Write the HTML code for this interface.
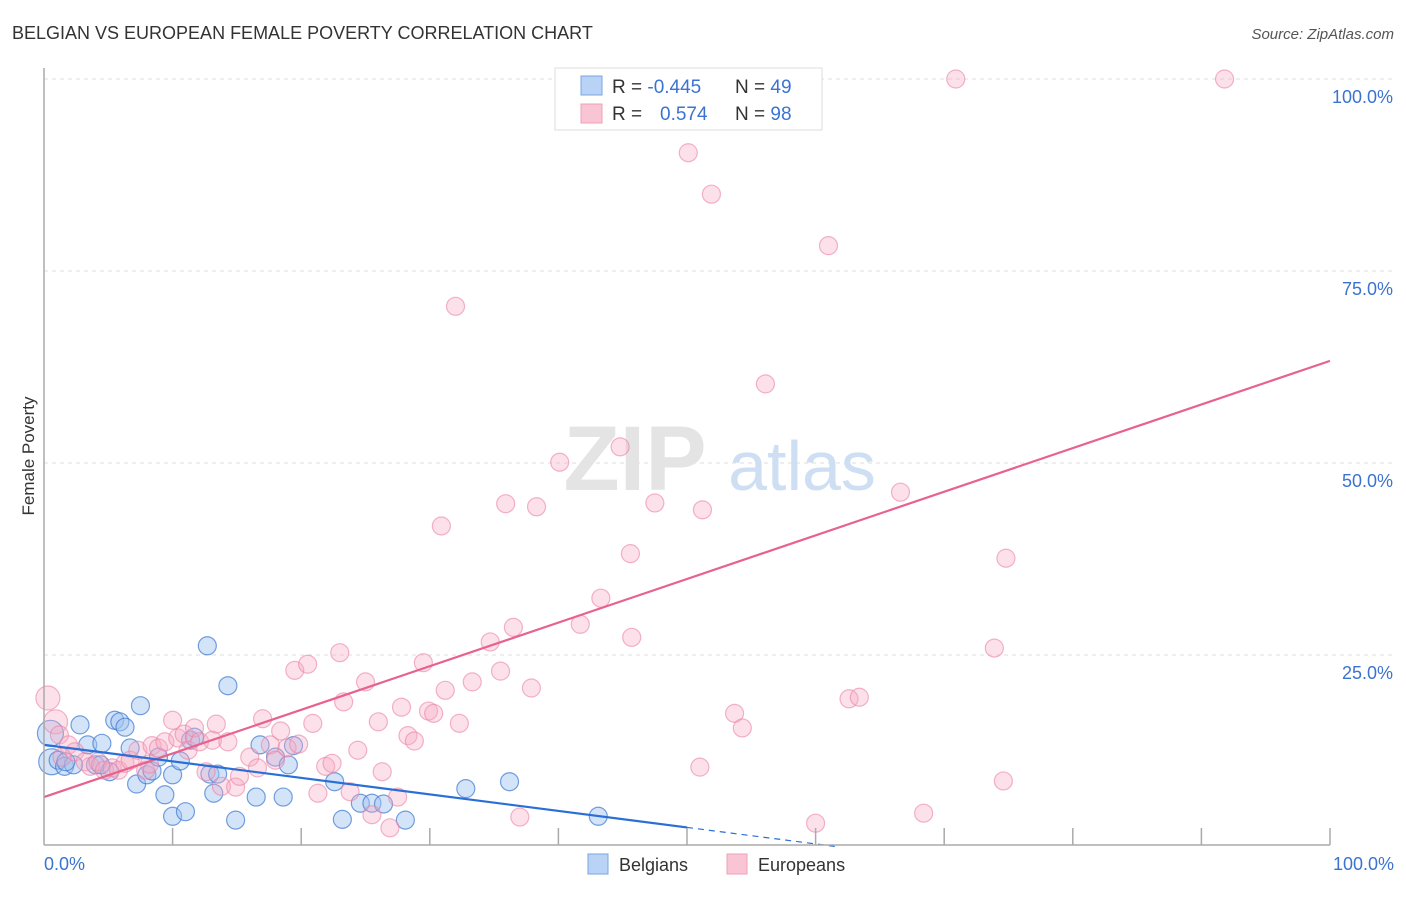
<!DOCTYPE html>
<html><head><meta charset="utf-8"><style>
body{margin:0;background:#fff;font-family:"Liberation Sans",sans-serif}
svg text{font-family:"Liberation Sans",sans-serif}
</style></head><body>
<svg width="1406" height="892" viewBox="0 0 1406 892">
<text x="12" y="39" font-size="18" fill="#333">BELGIAN VS EUROPEAN FEMALE POVERTY CORRELATION CHART</text>
<text x="1394" y="39" font-size="15" fill="#555" text-anchor="end" font-style="italic">Source: ZipAtlas.com</text>
<text x="34" y="456" font-size="17" fill="#333" text-anchor="middle" transform="rotate(-90 34 456)">Female Poverty</text>
<g id="grid"></g>
<g>
<text x="635" y="490" font-size="92" font-family="Liberation Serif" fill="#e4e4e4" text-anchor="middle" font-weight="bold">ZIP</text>
<text x="802" y="490" font-size="70" fill="#cfdff3" text-anchor="middle">atlas</text>
</g>
<g id="pts"></g>
<g id="lines"></g>
<line x1="44" y1="68" x2="44" y2="845" stroke="#aaa" stroke-width="1.5"/>
<line x1="44" y1="845" x2="1330" y2="845" stroke="#aaa" stroke-width="1.5"/>
<g id="xticks"></g>
<text x="44" y="870" font-size="18" fill="#3b73d1">0.0%</text>
<text x="1394" y="870" font-size="18" fill="#3b73d1" text-anchor="end">100.0%</text>
<g>
<rect x="555" y="68" width="267" height="62" fill="#fff" stroke="#ddd"/>
<rect x="581" y="76" width="21" height="19" fill="#b8d3f5" stroke="#7aa6e0"/>
<rect x="581" y="104" width="21" height="19" fill="#f9c4d4" stroke="#eea0b8"/>
<text x="612" y="93" font-size="19" fill="#333">R = <tspan fill="#3b73d1">-0.445</tspan><tspan x="735">N = </tspan><tspan fill="#3b73d1">49</tspan></text>
<text x="612" y="120" font-size="19" fill="#333">R = <tspan x="660" fill="#3b73d1">0.574</tspan><tspan x="735">N = </tspan><tspan fill="#3b73d1">98</tspan></text>
</g>
<g>
<rect x="588" y="854" width="20" height="20" fill="#b8d3f5" stroke="#7aa6e0"/>
<text x="619" y="871" font-size="18" fill="#333">Belgians</text>
<rect x="727" y="854" width="20" height="20" fill="#f9c4d4" stroke="#eea0b8"/>
<text x="758" y="871" font-size="18" fill="#333">Europeans</text>
</g>
</svg>
<script>
const yTicks=[25,50,75,100];
const yTickLabels=["25.0%","50.0%","75.0%","100.0%"];
const xTicks=[10,20,30,40,50,60,70,80,90,100];
const belgX=[0.6,0.5,1.1,1.6,2.3,2.8,3.4,4.0,4.5,5.1,5.5,5.9,6.3,6.7,7.2,7.5,8.0,8.4,8.9,9.4,10.0,10.0,10.6,11.0,11.4,11.7,12.7,12.9,13.2,13.5,14.3,14.9,16.5,16.8,18.0,18.6,19.0,19.4,22.6,23.2,24.6,25.5,26.4,28.1,32.8,36.2,43.1,4.4,1.7];
const belgY=[11.1,14.8,11.3,10.5,10.7,15.9,13.3,10.7,13.5,9.8,16.5,16.3,15.6,12.9,8.2,18.4,9.4,9.9,11.7,6.8,4.0,9.4,11.2,4.6,13.9,14.3,26.2,9.5,7.0,9.5,21.0,3.5,6.5,13.3,11.7,6.5,10.7,13.2,8.5,3.6,5.7,5.7,5.6,3.5,7.6,8.5,4.0,10.7,11.1];
const euroX=[0.3,0.9,1.2,1.9,2.4,3.2,3.6,4.2,4.7,5.3,5.8,6.3,6.7,7.3,7.9,8.4,8.9,9.4,10.0,10.4,10.9,11.2,11.7,12.1,12.6,13.1,13.4,13.8,14.3,14.9,15.2,16.0,16.6,17.0,17.6,18.0,18.4,18.9,19.5,19.8,20.5,20.9,21.3,21.9,22.4,23.0,23.3,23.8,24.4,25.0,25.5,26.0,26.3,26.9,27.5,27.8,28.3,28.8,29.5,29.9,30.3,30.9,31.2,32.0,32.3,33.3,34.7,35.5,35.9,36.5,37.0,37.9,38.3,40.1,41.7,43.3,44.8,45.6,45.7,47.5,50.1,51.0,51.2,51.9,53.7,54.3,56.1,60.0,61.0,62.6,63.4,66.6,68.4,70.9,73.9,74.6,74.8,91.8,1.4,8.2];
const euroY=[19.4,16.3,14.6,13.3,12.4,11.1,10.5,11.1,10.0,10.3,10.0,10.9,11.3,12.6,10.0,13.2,12.9,13.7,16.5,14.2,14.7,12.6,15.5,13.7,9.8,13.9,16.0,7.9,13.7,7.8,9.2,11.7,10.3,16.7,13.3,11.3,15.1,12.9,23.0,13.4,23.8,16.1,7.0,10.5,10.9,25.3,18.9,7.2,12.6,21.5,4.2,16.3,9.8,2.5,6.5,18.2,14.5,13.8,24.0,17.7,17.4,41.8,20.4,70.4,16.1,21.5,26.7,22.9,44.7,28.6,3.9,20.7,44.3,50.1,29.0,32.4,52.1,38.2,27.3,44.8,90.4,10.4,43.9,85.0,17.4,15.5,60.3,3.1,78.3,19.3,19.5,46.2,4.4,100,25.9,8.6,37.6,100,11.7,10.8];
const belgLine=[13.3,-0.215];   // intercept, slope (% per %)
const euroLine=[6.5,0.568];
const X=v=>44+v*12.86, Y=v=>847-v*7.68;
const NS="http://www.w3.org/2000/svg";
function mk(t,a,p){const e=document.createElementNS(NS,t);for(const k in a)e.setAttribute(k,a[k]);p.appendChild(e);return e;}
const grid=document.getElementById('grid');
yTicks.forEach((t,i)=>{
 const l=mk('line',{x1:44,x2:1394,y1:Y(t),y2:Y(t),stroke:'#ddd','stroke-dasharray':'4 4'},grid);
 
 
 const tx=mk('text',{x:1393,y:Y(t)+24,'font-size':18,fill:'#3b73d1','text-anchor':'end'},grid);
 tx.textContent=yTickLabels[i];
 
 
});
const xt=document.getElementById('xticks');
xTicks.forEach(t=>{
 const l=mk('line',{x1:X(t),x2:X(t),y1:828,y2:845,stroke:'#aaa','stroke-width':1.5},xt);
 
 
});
const pts=document.getElementById('pts');
belgX.forEach((v,i)=>{
 const c=mk('circle',{cx:X(v),cy:Y(belgY[i]),r:(v<1?13:9),fill:'rgba(160,196,240,0.45)',stroke:'rgba(60,120,210,0.7)','stroke-width':1.2},pts);
 
 
});
euroX.forEach((v,i)=>{
 const c=mk('circle',{cx:X(v),cy:Y(euroY[i]),r:(v<1?12:9),fill:'rgba(245,170,195,0.35)',stroke:'rgba(235,130,165,0.6)','stroke-width':1.2},pts);
 
 
});
const ln=document.getElementById('lines');
const f=(L,x)=>L[0]+L[1]*x;
let a=mk('line',{x1:X(0),y1:Y(f(euroLine,0)),x2:X(100),y2:Y(f(euroLine,100)),stroke:'#e8628e','stroke-width':2.2},ln);


let b=mk('line',{x1:X(0),y1:Y(f(belgLine,0)),x2:X(50),y2:Y(f(belgLine,50)),stroke:'#2a6fd6','stroke-width':2.2},ln);


const xe=-belgLine[0]/belgLine[1];
let c=mk('line',{x1:X(50),y1:Y(f(belgLine,50)),x2:X(xe),y2:Y(0),stroke:'#2a6fd6','stroke-width':1.2,'stroke-dasharray':'6 5'},ln);


</script>
</body></html>
